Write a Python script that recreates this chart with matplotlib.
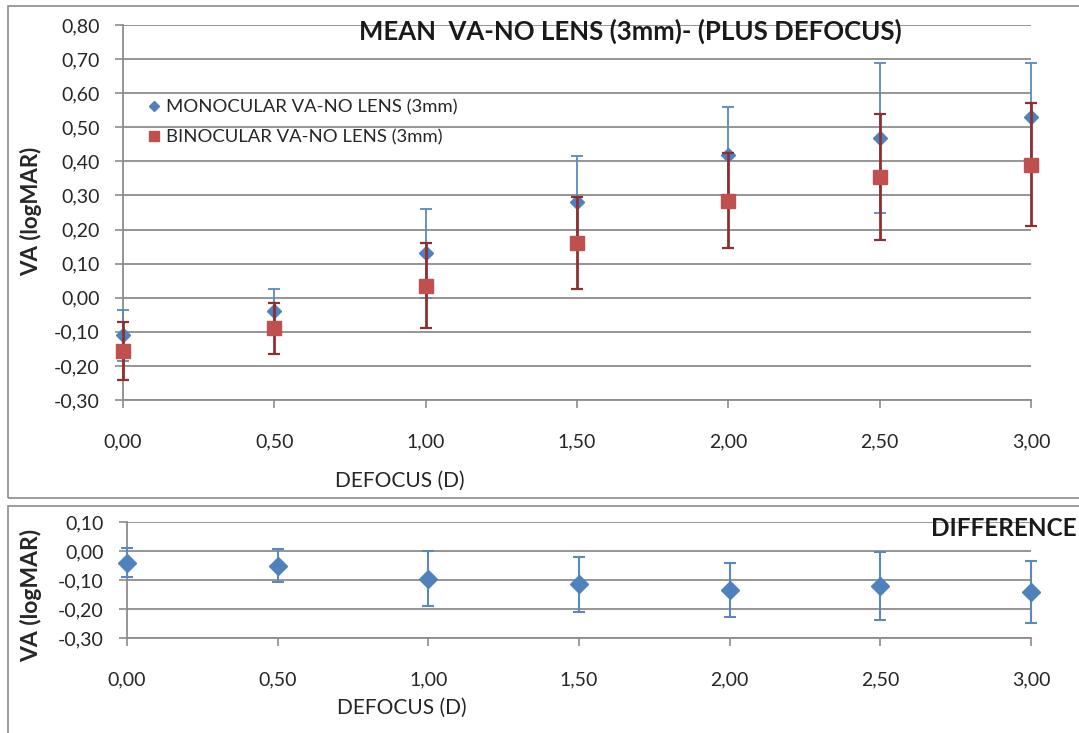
import matplotlib
matplotlib.use('Agg')
import matplotlib.pyplot as plt
from matplotlib.patches import Rectangle
from matplotlib.ticker import FuncFormatter, MultipleLocator

# ----------------------------------------------------------------
# Data
# ----------------------------------------------------------------
defocus = [0.0, 0.5, 1.0, 1.5, 2.0, 2.5, 3.0]

mono_mean = [-0.11, -0.04, 0.13, 0.28, 0.42, 0.47, 0.53]
mono_sd = [0.075, 0.065, 0.13, 0.135, 0.14, 0.22, 0.16]

bino_mean = [-0.155, -0.09, 0.035, 0.16, 0.285, 0.355, 0.39]
bino_sd = [0.085, 0.075, 0.125, 0.135, 0.14, 0.185, 0.18]

diff_mean = [-0.04, -0.05, -0.095, -0.115, -0.135, -0.12, -0.14]
diff_sd = [0.05, 0.057, 0.095, 0.095, 0.093, 0.117, 0.107]

labels = ['MONOCULAR VA-NO LENS (3mm)', 'BINOCULAR VA-NO LENS (3mm)']

plt.rcParams['font.family'] = ['Lato', 'DejaVu Sans']

BLUE = '#4F81BD'
BLUE_ERR = '#5B89BE'
RED = '#C0504D'
RED_ERR = '#8E2F30'
GRID = '#8C8C8C'
TEXT = '#262626'


def comma(v, pos):
    if abs(v) < 1e-9:
        v = 0.0
    return f'{v:.2f}'.replace('.', ',')


def style_axes(ax, ylim, ystep):
    ax.set_xlim(0, 3)
    ax.set_ylim(*ylim)
    ax.xaxis.set_major_locator(MultipleLocator(0.5))
    ax.yaxis.set_major_locator(MultipleLocator(ystep))
    ax.xaxis.set_major_formatter(FuncFormatter(comma))
    ax.yaxis.set_major_formatter(FuncFormatter(comma))
    ax.grid(axis='y', color=GRID, lw=1.3)
    ax.set_axisbelow(True)
    for s in ['top', 'right']:
        ax.spines[s].set_visible(False)
    for s in ['left', 'bottom']:
        ax.spines[s].set_color(GRID)
        ax.spines[s].set_linewidth(1.3)
    ax.tick_params(axis='y', direction='out', length=6, width=1.2,
                   color=GRID, labelsize=14, labelcolor=TEXT, pad=11)
    ax.tick_params(axis='x', direction='out', length=6, width=1.2,
                   color=GRID, labelsize=14, labelcolor=TEXT, pad=18)


fig = plt.figure(figsize=(10.79, 7.33), dpi=100)

# panel frames
fig.patches.append(Rectangle((8 / 1079, 1 - 498 / 733), 1.2, 492 / 733,
                             transform=fig.transFigure, fill=False,
                             edgecolor='#8C8C8C', lw=1.2))
fig.patches.append(Rectangle((8 / 1079, -0.1), 1.2, 0.1 + 1 - 506 / 733,
                             transform=fig.transFigure, fill=False,
                             edgecolor='#8C8C8C', lw=1.2))

# ----------------------------------------------------------------
# Top: monocular vs binocular
# ----------------------------------------------------------------
ax = fig.add_axes([123 / 1079, 1 - 400 / 733, 908 / 1079, 375 / 733])
style_axes(ax, (-0.30, 0.80), 0.10)

eb1 = ax.errorbar(defocus, mono_mean, yerr=mono_sd, fmt='D', ms=6.8,
                  color=BLUE, ecolor=BLUE_ERR, elinewidth=1.3, capsize=4,
                  capthick=1.3, clip_on=False, zorder=3)
eb2 = ax.errorbar(defocus, bino_mean, yerr=bino_sd, fmt='s', ms=10,
                  color=RED, ecolor=RED_ERR, elinewidth=2, capsize=4,
                  capthick=1.6, clip_on=False, zorder=4)
for eb in (eb1, eb2):
    for art in eb.lines[1] + eb.lines[2]:
        art.set_clip_on(False)

leg = ax.legend([eb1.lines[0], eb2.lines[0]], labels, loc='upper left',
                bbox_to_anchor=(142 / 1079, 1 - 92 / 733),
                bbox_transform=fig.transFigure, frameon=False,
                markerscale=0.75, handlelength=0.55, handletextpad=0.35,
                labelspacing=0.75, fontsize=13.3, borderaxespad=0)
for t in leg.get_texts():
    t.set_color(TEXT)

fig.text(630 / 1079, 1 - 31 / 733, 'MEAN  VA-NO LENS (3mm)- (PLUS DEFOCUS)',
         ha='center', va='center', fontsize=18.5, fontweight='bold',
         color='#1a1a1a')
fig.text(400 / 1079, 1 - 481 / 733, 'DEFOCUS (D)', ha='center', va='center',
         fontsize=15, color=TEXT)
fig.text(31 / 1079, 1 - 211 / 733, 'VA (logMAR)', ha='center', va='center',
         rotation=90, fontsize=16, fontweight='bold', color=TEXT)

# ----------------------------------------------------------------
# Bottom: difference
# ----------------------------------------------------------------
ax2 = fig.add_axes([127 / 1079, 1 - 638 / 733, 904 / 1079, 116 / 733])
style_axes(ax2, (-0.30, 0.10), 0.10)

eb3 = ax2.errorbar(defocus, diff_mean, yerr=diff_sd, fmt='D', ms=9.5,
                   color=BLUE, ecolor=BLUE_ERR, elinewidth=1.5, capsize=4,
                   capthick=1.5, clip_on=False, zorder=3)
for art in eb3.lines[1] + eb3.lines[2]:
    art.set_clip_on(False)

fig.text(1077 / 1079, 1 - 529 / 733, 'DIFFERENCE', ha='right', va='center',
         fontsize=17.5, fontweight='bold', color='#1a1a1a')
fig.text(402 / 1079, 1 - 708 / 733, 'DEFOCUS (D)', ha='center', va='center',
         fontsize=15, color=TEXT)
fig.text(31 / 1079, 1 - 595 / 733, 'VA (logMAR)', ha='center', va='center',
         rotation=90, fontsize=16.5, fontweight='bold', color=TEXT)

plt.savefig('out.png', dpi=100)
plt.close()
